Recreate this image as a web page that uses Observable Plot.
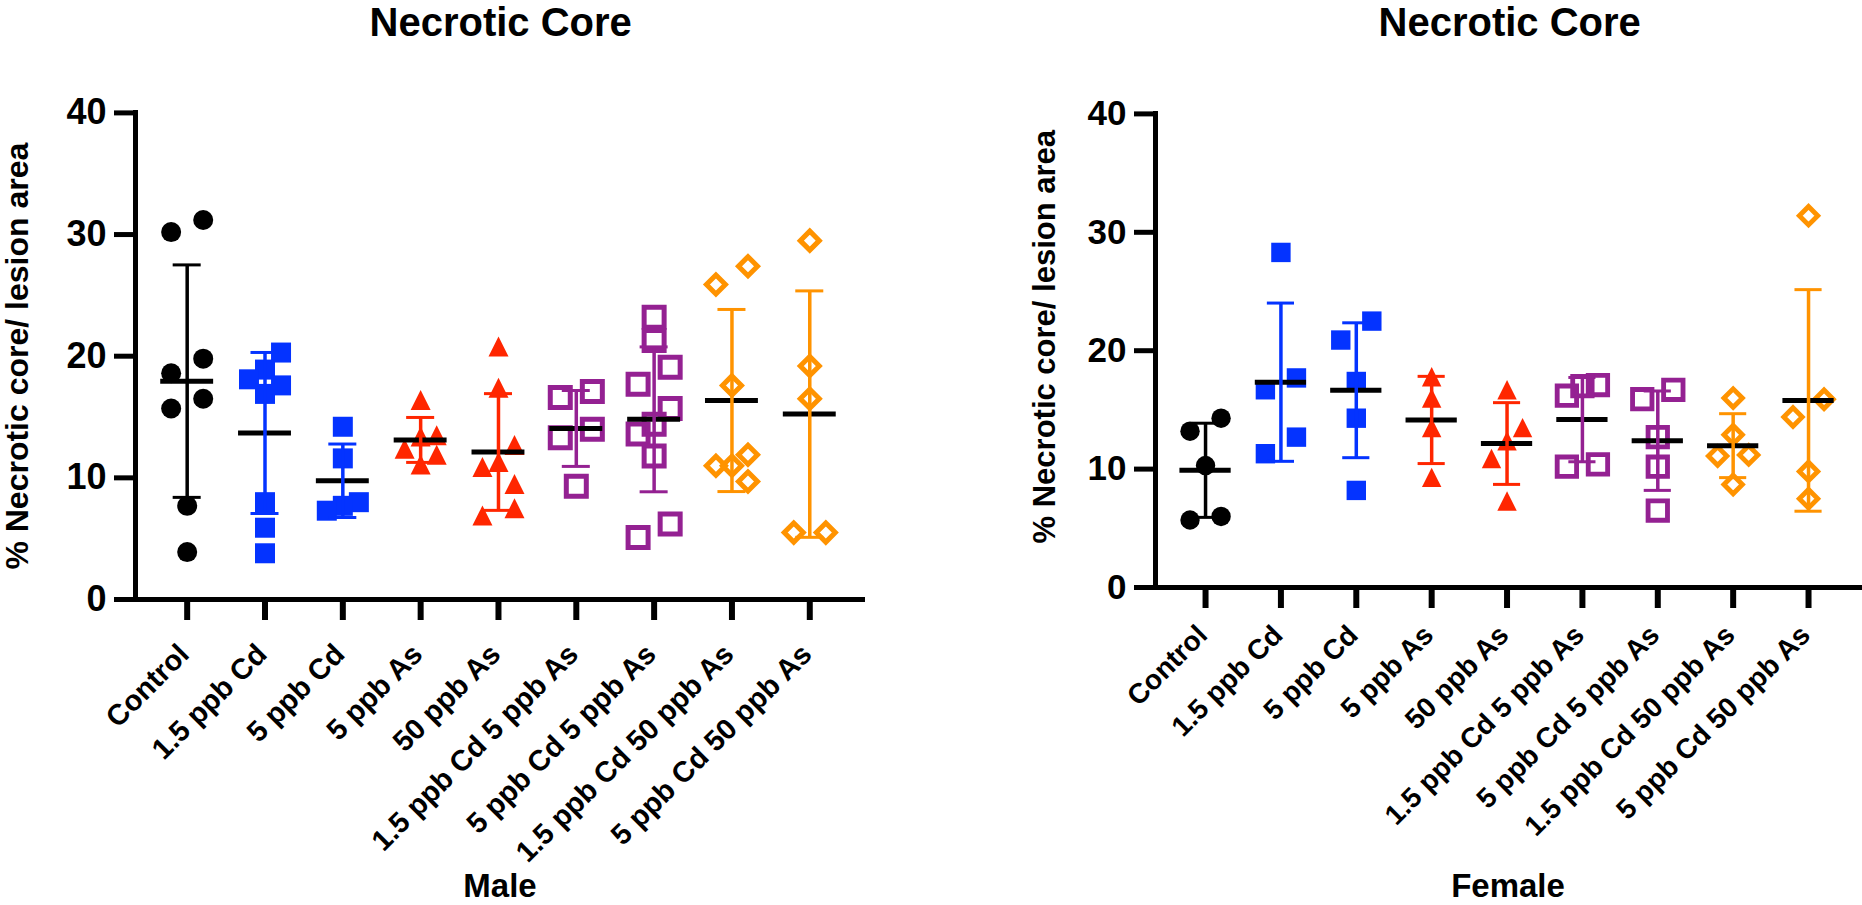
<!DOCTYPE html>
<html><head><meta charset="utf-8">
<script src="https://cdn.jsdelivr.net/npm/d3@7"></script>
<script src="https://cdn.jsdelivr.net/npm/@observablehq/plot@0.6"></script>
<style>
body{margin:0;background:#fff;}
#page{position:relative;width:1862px;height:905px;overflow:hidden;font-family:"Liberation Sans",Arial,sans-serif;font-weight:bold;color:#000}
.title{position:absolute;font-size:40px;line-height:45px;transform:translateX(-50%);white-space:nowrap}
.sex{position:absolute;font-size:33px;line-height:30px;transform:translateX(-50%);white-space:nowrap}
.panel{position:absolute;top:0}
</style></head>
<body><div id="page"></div>
<script>
// ---- categories / labels ----
const groups = ["Control", "1.5 ppb Cd", "5 ppb Cd", "5 ppb As", "50 ppb As",
  "1.5 ppb Cd 5 ppb As", "5 ppb Cd 5 ppb As", "1.5 ppb Cd 50 ppb As", "5 ppb Cd 50 ppb As"];
const yTicks = [0, 10, 20, 30, 40];
const yLabel = "% Necrotic core/ lesion area";
const panelTitle = "Necrotic Core";
const sexLabels = ["Male", "Female"];

// ---- Male values (% necrotic core / lesion area) ----
const maleControl   = [30.2, 31.2, 19.8, 18.6, 15.7, 16.5, 7.7, 3.9];
const male15Cd      = [20.3, 18.9, 18.1, 17.6, 16.9, 8.0, 5.9, 3.8];
const male5Cd       = [14.2, 11.6, 8.0, 7.7, 7.3];
const male5As       = [16.4, 13.5, 13.4, 12.4, 11.9, 11.1];
const male50As      = [20.8, 17.4, 12.7, 11.3, 10.9, 9.5, 7.5, 6.9];
const male15Cd5As   = [17.1, 16.6, 14.0, 13.3, 9.3];
const male5Cd5As    = [23.2, 21.3, 19.1, 17.7, 15.7, 14.4, 13.6, 11.8, 6.2, 5.1];
const male15Cd50As  = [27.4, 25.9, 17.6, 11.9, 11.0, 11.0, 9.7];
const male5Cd50As   = [29.5, 19.2, 16.5, 5.5, 5.5];

// ---- Female values ----
const femControl    = [14.3, 13.2, 10.3, 6.0, 5.7];
const fem15Cd       = [28.3, 17.7, 16.7, 12.7, 11.3];
const fem5Cd        = [22.5, 20.9, 17.4, 14.3, 8.2];
const fem5As        = [17.8, 16.0, 13.5, 9.3];
const fem50As       = [16.7, 13.5, 12.4, 10.9, 7.3];
const fem15Cd5As    = [17.1, 17.0, 16.2, 10.4, 10.2];
const fem5Cd5As     = [16.7, 15.9, 12.7, 10.2, 6.5];
const fem15Cd50As   = [16.0, 12.9, 11.2, 11.1, 8.7];
const fem5Cd50As    = [31.4, 15.9, 14.4, 9.8, 7.5];

const maleSeries = [maleControl, male15Cd, male5Cd, male5As, male50As, male15Cd5As, male5Cd5As, male15Cd50As, male5Cd50As];
const femaleSeries = [femControl, fem15Cd, fem5Cd, fem5As, fem50As, fem15Cd5As, fem5Cd5As, fem15Cd50As, fem5Cd50As];

// ---- styles ----
const groupColors = ["#000000", "#0433FF", "#0433FF", "#FF2600", "#FF2600", "#942192", "#942192", "#FF9300", "#FF9300"];
const groupSymbols = ["circle", "square", "square", "triangle", "triangle", "openSquare", "openSquare", "openDiamond", "openDiamond"];

const half = s => Math.sqrt(s / Math.PI);
const symSquare = {draw(c, s) { const r = half(s); c.moveTo(-r, -r); c.lineTo(r, -r); c.lineTo(r, r); c.lineTo(-r, r); c.closePath(); }};
const symTriangle = {draw(c, s) { const r = half(s); c.moveTo(0, -r); c.lineTo(r, r); c.lineTo(-r, r); c.closePath(); }};
const symDiamond = {draw(c, s) { const r = half(s); c.moveTo(0, -r); c.lineTo(r, 0); c.lineTo(0, r); c.lineTo(-r, 0); c.closePath(); }};

const xDomain = [-0.664, 8.716];

function makePanel(series, o) {
  // scatter layout: points that sit close in value are spread side by side
  const pts = [];
  series.forEach((vals, gi) => {
    const sorted = vals.slice().sort((a, b) => b - a);
    const clusters = [];
    sorted.forEach(v => {
      const last = clusters[clusters.length - 1];
      if (last && last[last.length - 1] - v < 1.7) last.push(v); else clusters.push([v]);
    });
    clusters.forEach(c => c.forEach((v, j) => {
      const side = c.length === 1 ? 0 : c.length === 2 ? (j === 0 ? 1 : -1) : [1, 0, -1][j % 3];
      pts.push({g: gi, v, side});
    }));
  });
  const stats = series.map((vals, gi) => {
    const m = d3.mean(vals), s = d3.deviation(vals);
    return {g: gi, m, lo: m - s, hi: m + s};
  });
  const k = o.k;
  const marks = [
    Plot.ruleY([0], {strokeWidth: 5}),
    Plot.ruleX([xDomain[0]], {y1: 0, y2: 40, strokeWidth: 5, strokeLinecap: "square"}),
    Plot.axisY({ticks: yTicks, tickSize: 21, tickPadding: 8, strokeWidth: 5, fontSize: o.yFont, fontWeight: "bold", label: null}),
    Plot.axisX({ticks: d3.range(groups.length), tickSize: 21, strokeWidth: 6, tickFormat: () => "", label: null}),
    Plot.text(d3.range(groups.length), {x: d => d, frameAnchor: "bottom", text: d => groups[d], rotate: -45,
      textAnchor: "end", lineAnchor: "middle", dx: -3, dy: o.labelDy, fontSize: o.xFont, fontWeight: "bold"}),
    Plot.text([yLabel], {frameAnchor: "left", text: d => d, rotate: -90, lineAnchor: "middle", textAnchor: "middle",
      dx: o.yLabelDx, dy: o.yLabelDy, fontSize: o.yLabelFont, fontWeight: "bold"})
  ];
  groups.forEach((name, gi) => {
    const data = pts.filter(p => p.g === gi);
    const col = groupColors[gi];
    const base = {x: p => p.g + p.side * 0.206, y: "v"};
    switch (groupSymbols[gi]) {
      case "circle": marks.push(Plot.dot(data, {...base, r: 10 * k, fill: col, symbol: "circle"})); break;
      case "square": marks.push(Plot.dot(data, {...base, r: 10 * k, fill: col, symbol: symSquare})); break;
      case "triangle": marks.push(Plot.dot(data, {...base, r: 10 * k, fill: col, symbol: symTriangle})); break;
      case "openSquare": marks.push(Plot.dot(data, {...base, r: 10 * k, fill: "none", stroke: col, strokeWidth: 5 * k, symbol: symSquare})); break;
      case "openDiamond": marks.push(Plot.dot(data, {...base, r: 9.5 * k, fill: "none", stroke: col, strokeWidth: 5 * k, strokeLinejoin: "miter", symbol: symDiamond})); break;
    }
  });
  marks.push(Plot.ruleY(stats, {y: "m", x1: d => d.g - 0.34, x2: d => d.g + 0.34, stroke: "#000", strokeWidth: 5}));
  marks.push(Plot.ruleX(stats, {x: "g", y1: "lo", y2: "hi", stroke: d => groupColors[d.g], strokeWidth: 3.5}));
  marks.push(Plot.ruleY(stats, {y: "hi", x1: d => d.g - 0.18, x2: d => d.g + 0.18, stroke: d => groupColors[d.g], strokeWidth: 3}));
  marks.push(Plot.ruleY(stats, {y: "lo", x1: d => d.g - 0.18, x2: d => d.g + 0.18, stroke: d => groupColors[d.g], strokeWidth: 3}));

  return Plot.plot({
    width: o.width, height: 905,
    marginLeft: o.marginLeft, marginRight: o.marginRight, marginTop: o.marginTop, marginBottom: o.marginBottom,
    x: {domain: xDomain}, y: {domain: [0, 40]},
    color: {type: "identity"},
    style: {fontFamily: '"Liberation Sans", Arial, sans-serif', fontWeight: "bold", background: "transparent", overflow: "visible", color: "#000"},
    marks
  });
}

const page = document.getElementById("page");

const left = makePanel(maleSeries, {width: 880, marginLeft: 135, marginRight: 15, marginTop: 112.4, marginBottom: 306,
  k: 1, yFont: 36, xFont: 29, labelDy: 50, yLabelDx: -118, yLabelDy: 0, yLabelFont: 32});
left.classList.add("panel"); left.style.left = "0px";
page.appendChild(left);

const right = makePanel(femaleSeries, {width: 982, marginLeft: 275, marginRight: 0, marginTop: 113.4, marginBottom: 318,
  k: 0.97, yFont: 35, xFont: 28, labelDy: 43, yLabelDx: -110, yLabelDy: -14, yLabelFont: 31});
right.classList.add("panel"); right.style.left = "880px";
page.appendChild(right);

function addText(cls, txt, x, y) {
  const d = document.createElement("div");
  d.className = cls; d.textContent = txt; d.style.left = x + "px"; d.style.top = y + "px";
  page.appendChild(d);
}
addText("title", panelTitle, 500.7, 0);
addText("title", panelTitle, 1509.7, 0);
addText("sex", sexLabels[0], 500, 871);
addText("sex", sexLabels[1], 1508, 871);
</script>
</body></html>
